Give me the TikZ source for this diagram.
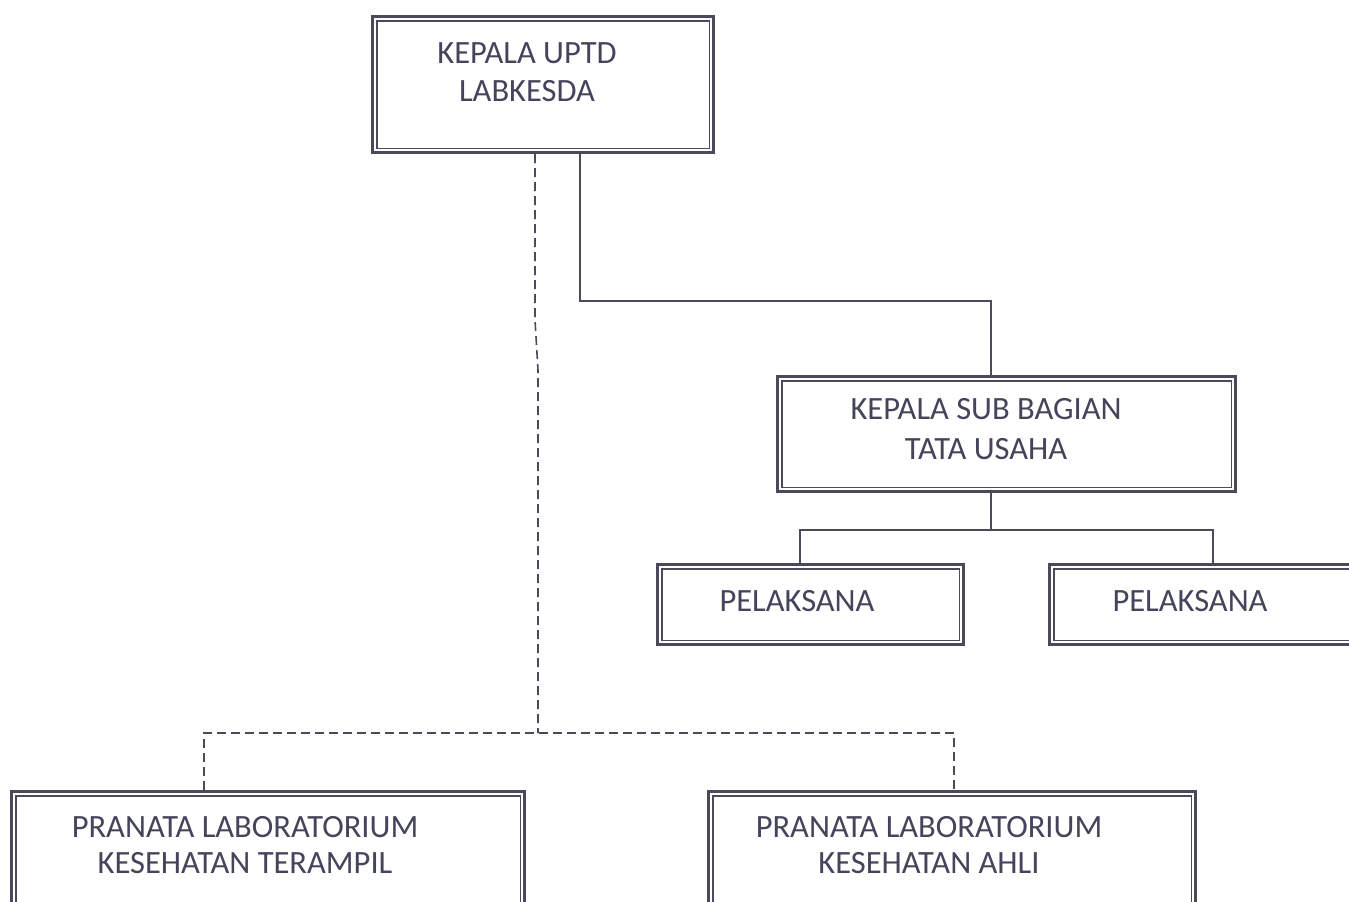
\documentclass[tikz,border=0pt]{standalone}
\usepackage{fontspec}
\setmainfont{Carlito}
\definecolor{ink}{HTML}{44445A}
\definecolor{edge}{HTML}{4A4A5A}
\begin{document}
\begin{tikzpicture}[x=1pt,y=-1pt,
  box/.style={draw=edge, line width=3.2pt, rectangle, inner sep=0pt, anchor=north west},
  lbl/.style={text=ink, font=\fontsize{32.5}{38}\selectfont, align=center, inner sep=0pt},
  conn/.style={draw=edge, line width=1.5pt},
  dconn/.style={draw=edge, line width=1.6pt, dash pattern=on 9pt off 5pt}]
\useasboundingbox (0,0) rectangle (1349,902);
\fill[white] (0,0) rectangle (1349,902);

% boxes
\node[box, minimum width=341pt, minimum height=136pt] (kepala) at (371,15) {};
\node[box, minimum width=458pt, minimum height=115pt] (sub) at (776,375) {};
\node[box, minimum width=306pt, minimum height=80pt] (pel1) at (656,563) {};
\node[box, minimum width=340pt, minimum height=80pt] (pel2) at (1048,563) {};
\node[box, minimum width=513pt, minimum height=135pt] (pr1) at (10,790) {};
\node[box, minimum width=487pt, minimum height=135pt] (pr2) at (707,790) {};

% inner thin borders
\foreach \n in {kepala,sub,pel1,pel2,pr1,pr2}{
  \draw[edge, line width=1.2pt] ([shift={(6pt,-6pt)}]\n.north west) rectangle ([shift={(-6pt,6pt)}]\n.south east);
}

% labels
\node[lbl] (lk) at (527,72) {KEPALA UPTD\\LABKESDA};
\node[lbl, font=\fontsize{32.5}{40}\selectfont] (ls) at (986,429) {KEPALA SUB BAGIAN\\TATA USAHA};
\node[lbl] (lp1) at (797,601) {PELAKSANA};
\node[lbl] (lp2) at (1190,601) {PELAKSANA};
\node[lbl, font=\fontsize{32.5}{36}\selectfont] (lr1) at (245,845) {PRANATA LABORATORIUM\\KESEHATAN TERAMPIL};
\node[lbl, font=\fontsize{32.5}{36}\selectfont] (lr2) at (929,845) {PRANATA LABORATORIUM\\KESEHATAN AHLI};

% solid connectors
\coordinate (s1) at (580,301);
\coordinate (s2) at (991,301);
\draw[conn] (s1 |- kepala.south) -- (s1) -- (s2) -- (s2 |- sub.north);
\coordinate (b1) at (991,530);
\coordinate (b2) at (800,530);
\coordinate (b3) at (1213,530);
\draw[conn] (b1 |- sub.south) -- (b1);
\draw[conn] (b2 |- pel1.north) -- (b2) -- (b3) -- (b3 |- pel2.north);

% dashed connectors
\coordinate (d1) at (535,320);
\coordinate (d2) at (538,370);
\coordinate (d3) at (538,733);
\draw[dconn] (d1 |- kepala.south) -- (d1) -- (d2) -- (d3);
\coordinate (d4) at (204,733);
\coordinate (d5) at (954,733);
\draw[dconn] (d4 |- pr1.north) -- (d4) -- (d5) -- (d5 |- pr2.north);
\end{tikzpicture}
\end{document}
